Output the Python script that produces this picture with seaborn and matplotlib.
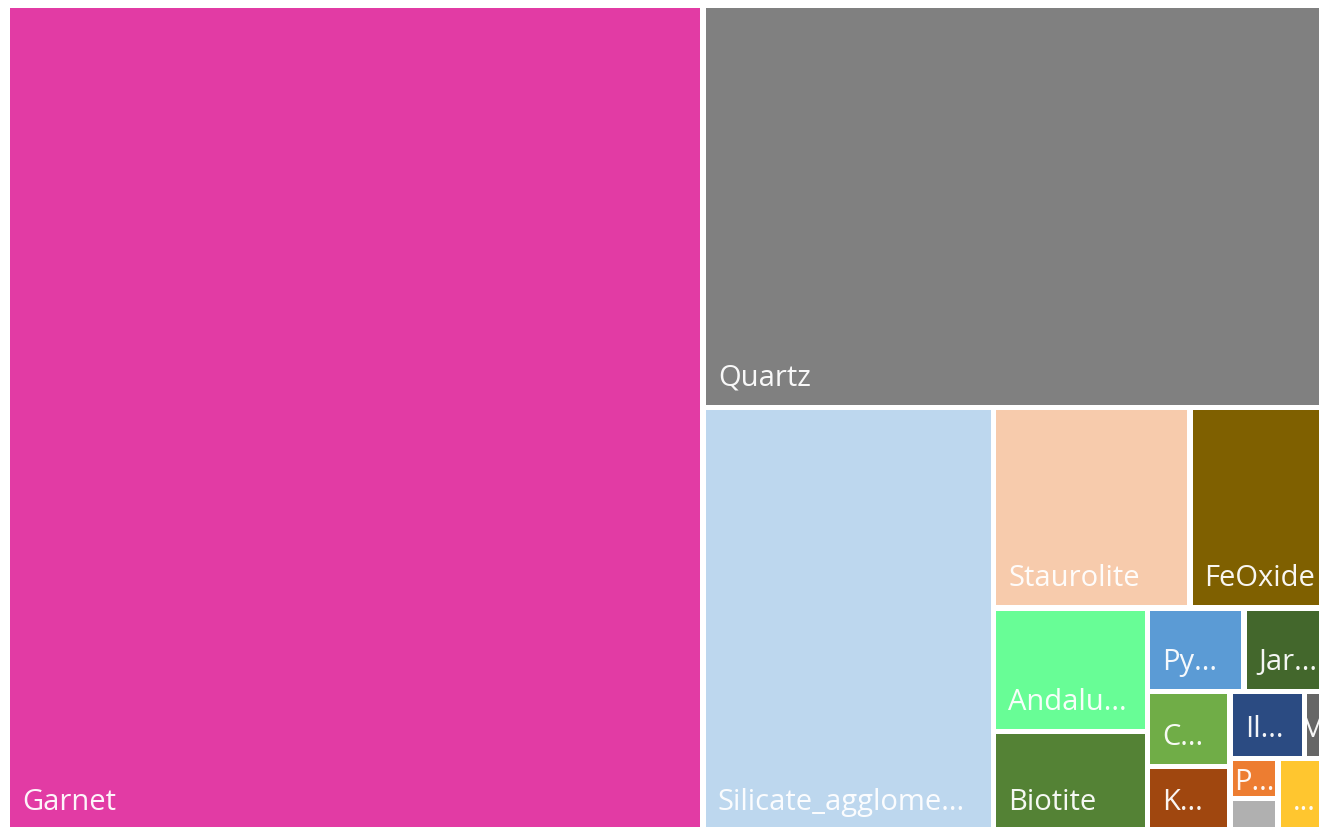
import matplotlib
matplotlib.use("Agg")
import matplotlib.pyplot as plt
import seaborn as sns

# Mineral abundance (relative area units)
minerals = ["Garnet", "Quartz", "Silicate_agglomerate", "Staurolite", "FeOxide",
            "Andalusite", "Biotite", "Pyrite", "Jarosite", "Chlorite",
            "Kyanite", "Ilmenite", "Muscovite", "Plagioclase", "Apatite", "Other"]
abundance = [5748, 2566, 1232, 393, 305,
             190, 154, 81, 82, 62,
             54, 50, 25, 19, 16, 47]
colors = ["#E23BA4", "#808080", "#BDD7EE", "#F7CBAC", "#7F6000",
          "#68FD96", "#548235", "#5B9BD5", "#43672C", "#70AD47",
          "#A0470F", "#2B4B82", "#666666", "#ED7D31", "#B0B0B0", "#FFC62F"]

W_PX, H_PX = 1319, 827
FONT = "Open Sans"
FS = 21
GAP = 5.5
PAD_L = 12
PAD_R = 16


def worst(row, side):
    s = sum(row)
    return max(max(side * side * r / (s * s), s * s / (side * side * r)) for r in row)


def squarify(sizes, x, y, w, h):
    """Squarified treemap; sizes already scaled to the rectangle area."""
    rects = []
    sizes = list(sizes)
    while sizes:
        side = min(w, h)
        row = [sizes.pop(0)]
        while sizes and worst(row + [sizes[0]], side) <= worst(row, side):
            row.append(sizes.pop(0))
        s = sum(row)
        if w >= h:  # column on the left
            cw = s / h
            yy = y
            for r in row:
                rh = r / cw
                rects.append((x, yy, cw, rh))
                yy += rh
            x += cw
            w -= cw
        else:  # row on top
            rh = s / w
            xx = x
            for r in row:
                rw = r / rh
                rects.append((xx, y, rw, rh))
                xx += rw
            y += rh
            h -= rh
    return rects


sns.set_theme(style="white")
plt.rcParams["font.family"] = [FONT, "DejaVu Sans"]

fig = plt.figure(figsize=(W_PX / 100, H_PX / 100), dpi=100)
ax = fig.add_axes([0, 0, 1, 1])
ax.set_xlim(0, W_PX)
ax.set_ylim(H_PX, 0)
ax.axis("off")

# Treemap frame (extends slightly past the visible canvas)
x0, y0 = 7.25, 5.25
tw, th = 1334.75, 826.75
total = sum(abundance)
scaled = [v * tw * th / total for v in abundance]
cells = squarify(scaled, x0, y0, tw, th)

renderer = fig.canvas.get_renderer()


def text_width(s):
    t = ax.text(0, 0, s, fontsize=FS)
    wd = t.get_window_extent(renderer).width
    t.remove()
    return wd


def fit_label(name, avail):
    if text_width(name) <= avail:
        return name, False
    for k in range(len(name) - 1, 0, -1):
        s = name[:k] + "..."
        if text_width(s) <= avail:
            return s, False
    if text_width("...") <= avail:
        return "...", False
    return name[0] + "...", True


for (cx, cy, cw, ch), name, col in zip(cells, minerals, colors):
    bx, by = cx + GAP / 2, cy + GAP / 2
    bw, bh = cw - GAP, ch - GAP
    ax.bar(bx, bh, width=bw, bottom=by, align="edge", color=col,
           edgecolor="none", linewidth=0)
    if bh < 32:
        continue
    label, centered = fit_label(name, bw - PAD_L - PAD_R)
    baseline = max(by + bh - 19, by + 29)
    if centered:
        ax.text(bx + bw / 2, baseline, label, fontsize=FS, color="white",
                ha="center", va="baseline", alpha=0.95)
    else:
        ax.text(bx + PAD_L, baseline, label, fontsize=FS, color="white",
                ha="left", va="baseline", alpha=0.95)

fig.savefig("out.png", dpi=100, facecolor="white")
